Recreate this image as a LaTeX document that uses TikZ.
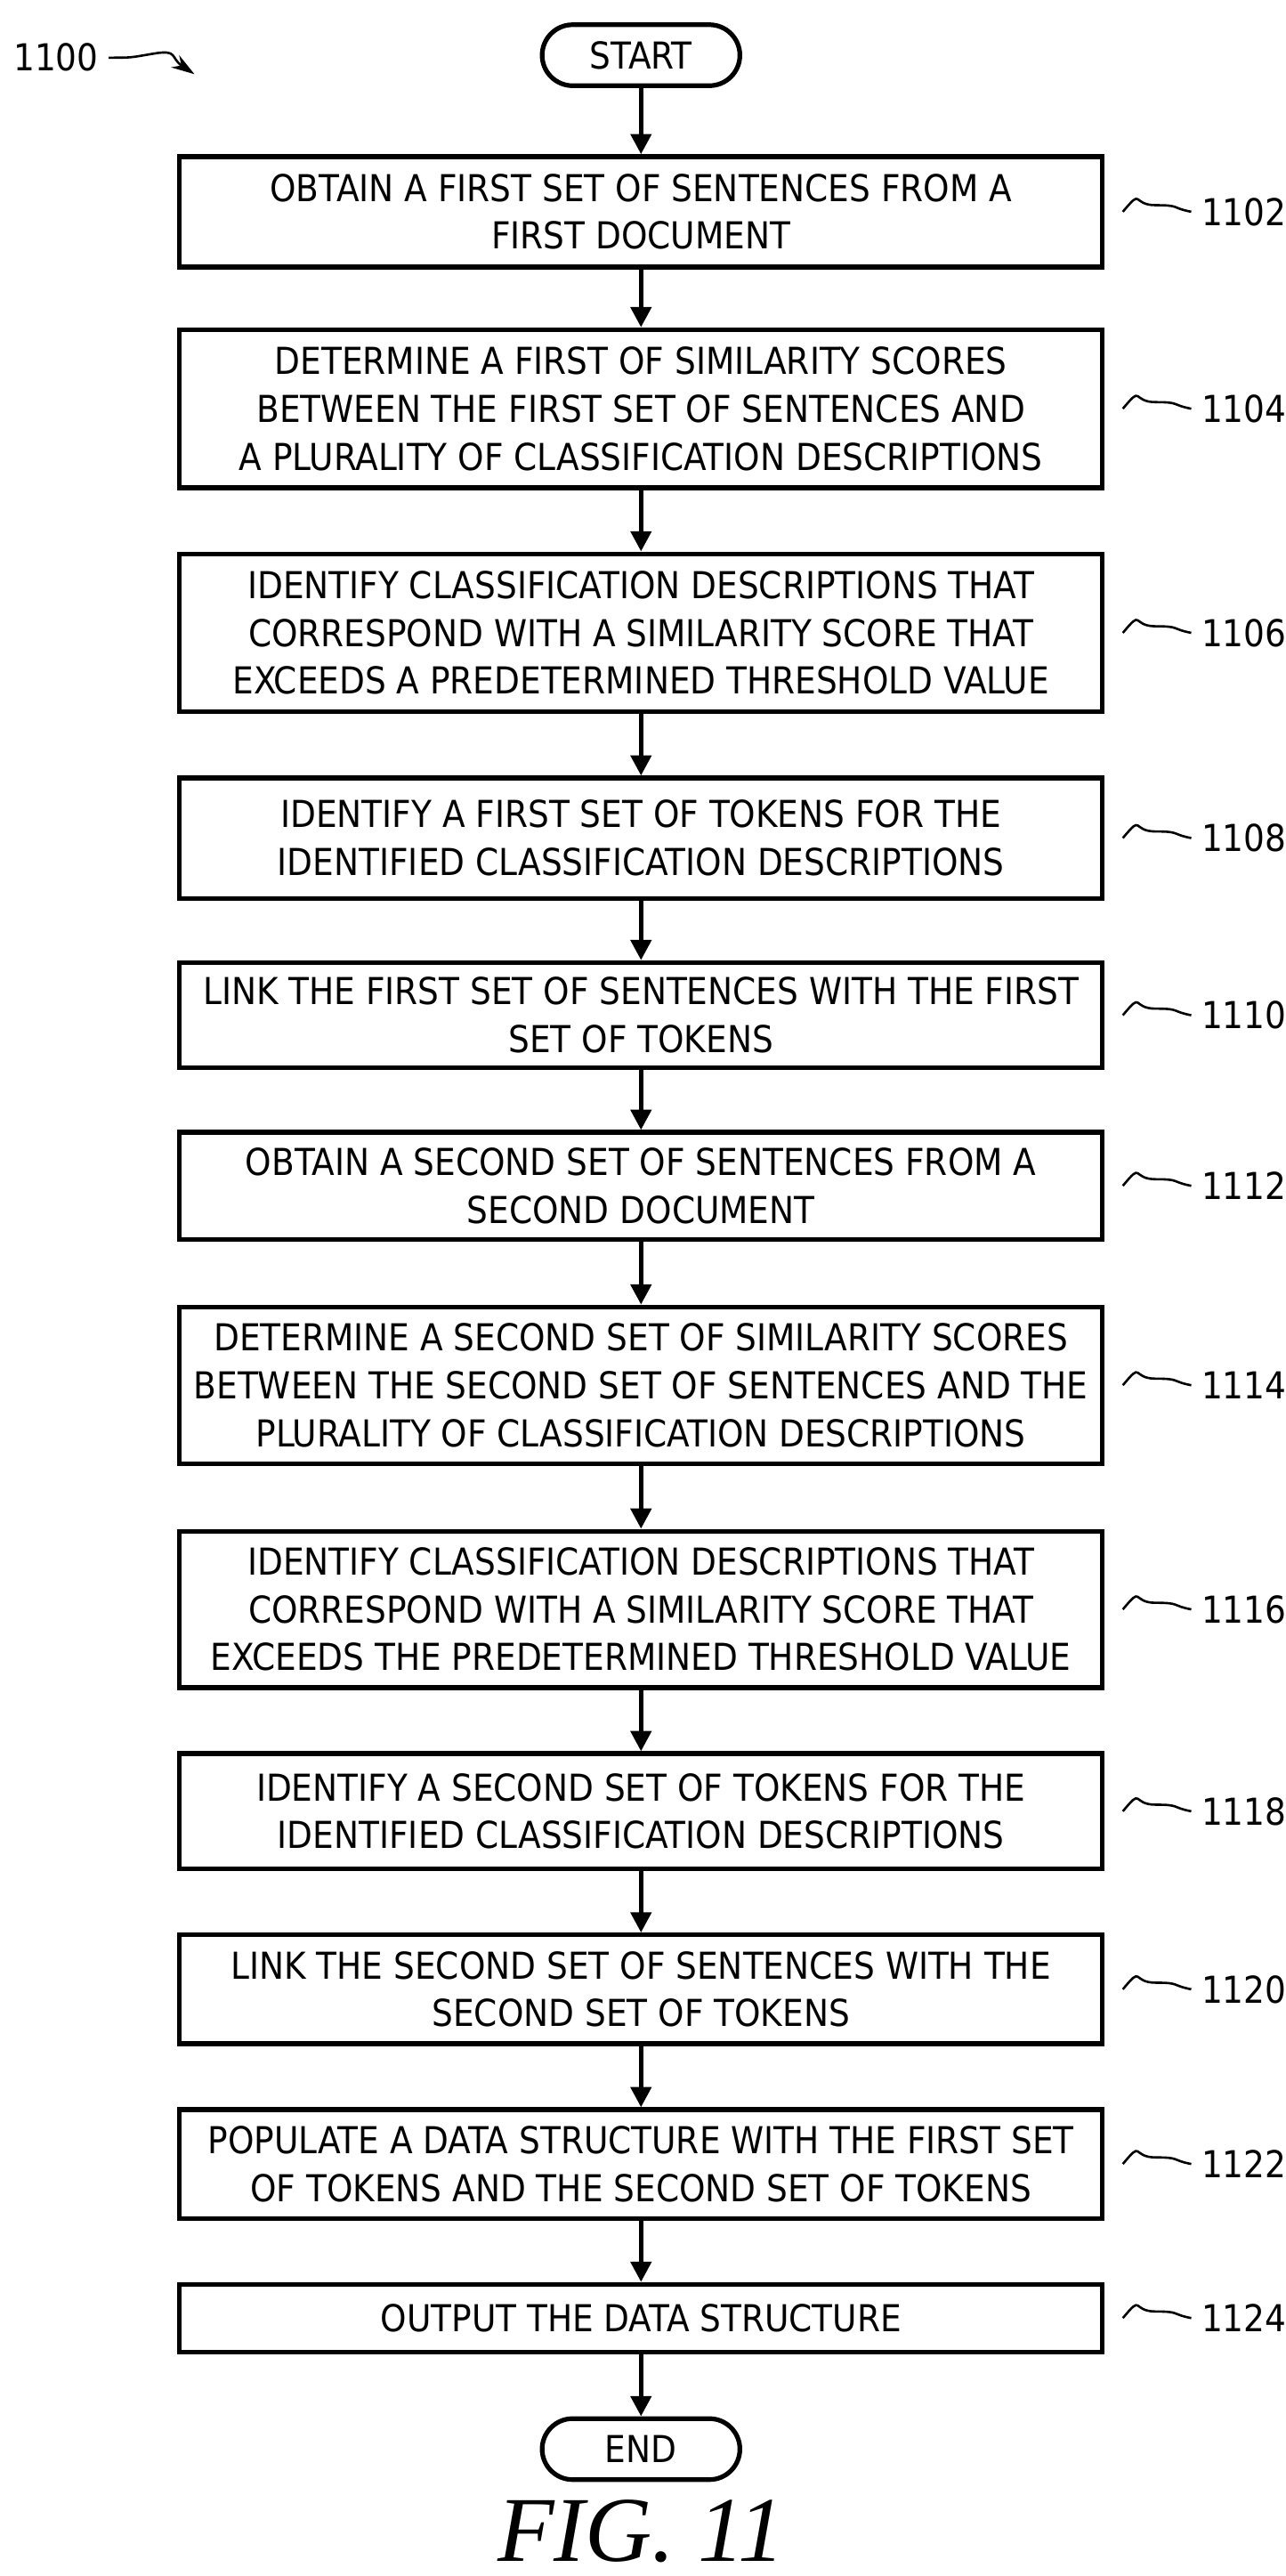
\documentclass[tikz,border=0pt]{standalone}
\usepackage{fontspec}
\setmainfont{Liberation Serif}
\setsansfont{DejaVu Sans Condensed}
\usetikzlibrary{calc,arrows.meta}
\tikzset{
 box/.style={draw,line width=1.6pt,minimum width=11.2cm,align=center,font=\sffamily\fontsize{12.8}{16.5}\selectfont,inner sep=2pt},
 term/.style={draw,line width=1.6pt,rounded corners=0.37cm,minimum width=2.4cm,minimum height=0.74cm,font=\sffamily\fontsize{12.8}{14}\selectfont},
 ref/.style={anchor=west,font=\sffamily\fontsize{12.8}{14}\selectfont},
 flow/.style={line width=1.6pt,-{Triangle[length=7pt,width=7pt]}},
 wave/.style={line width=0.8pt}
}
\begin{document}
\begin{tikzpicture}
\useasboundingbox (0,0) rectangle (15.6,-31.26);
% terminals
\node[term] (start) at (7.78,-0.67) {START};
\node[term] (end) at (7.78,-29.72) {END};
% steps
\node[box,minimum height=1.34cm] (s1102) at (7.78,-2.57) {OBTAIN A FIRST SET OF SENTENCES FROM A\\FIRST DOCUMENT};
\node[box,minimum height=1.92cm] (s1104) at (7.78,-4.96) {DETERMINE A FIRST OF SIMILARITY SCORES\\BETWEEN THE FIRST SET OF SENTENCES AND\\A PLURALITY OF CLASSIFICATION DESCRIPTIONS};
\node[box,minimum height=1.92cm] (s1106) at (7.78,-7.68) {IDENTIFY CLASSIFICATION DESCRIPTIONS THAT\\CORRESPOND WITH A SIMILARITY SCORE THAT\\EXCEEDS A PREDETERMINED THRESHOLD VALUE};
\node[box,minimum height=1.46cm] (s1108) at (7.78,-10.17) {IDENTIFY A FIRST SET OF TOKENS FOR THE\\IDENTIFIED CLASSIFICATION DESCRIPTIONS};
\node[box,minimum height=1.28cm] (s1110) at (7.78,-12.32) {LINK THE FIRST SET OF SENTENCES WITH THE FIRST\\SET OF TOKENS};
\node[box,minimum height=1.30cm] (s1112) at (7.78,-14.39) {OBTAIN A SECOND SET OF SENTENCES FROM A\\SECOND DOCUMENT};
\node[box,minimum height=1.90cm] (s1114) at (7.78,-16.81) {DETERMINE A SECOND SET OF SIMILARITY SCORES\\BETWEEN THE SECOND SET OF SENTENCES AND THE\\PLURALITY OF CLASSIFICATION DESCRIPTIONS};
\node[box,minimum height=1.90cm] (s1116) at (7.78,-19.53) {IDENTIFY CLASSIFICATION DESCRIPTIONS THAT\\CORRESPOND WITH A SIMILARITY SCORE THAT\\EXCEEDS THE PREDETERMINED THRESHOLD VALUE};
\node[box,minimum height=1.40cm] (s1118) at (7.78,-21.98) {IDENTIFY A SECOND SET OF TOKENS FOR THE\\IDENTIFIED CLASSIFICATION DESCRIPTIONS};
\node[box,minimum height=1.32cm] (s1120) at (7.78,-24.14) {LINK THE SECOND SET OF SENTENCES WITH THE\\SECOND SET OF TOKENS};
\node[box,minimum height=1.32cm] (s1122) at (7.78,-26.26) {POPULATE A DATA STRUCTURE WITH THE FIRST SET\\OF TOKENS AND THE SECOND SET OF TOKENS};
\node[box,minimum height=0.82cm] (s1124) at (7.78,-28.13) {OUTPUT THE DATA STRUCTURE};
% arrows
\draw[flow] (start) -- (s1102);
\foreach \a/\b in {1102/1104,1104/1106,1106/1108,1108/1110,1110/1112,1112/1114,1114/1116,1116/1118,1118/1120,1120/1122,1122/1124}
 \draw[flow] (s\a) -- (s\b);
\draw[flow] (s1124) -- (end);
% reference numerals
\foreach \n in {1102,1104,1106,1108,1110,1112,1114,1116,1118,1120,1122,1124}{
 \node[ref] (r\n) at ($(s\n.east)+(1.05,0)$) {\n};
 \coordinate (w\n) at ($(s\n.east)+(0.22,0)$);
 \draw[wave] (w\n) .. controls +(0.25,0.3) and +(-0.3,0) .. ($(w\n)+(0.4,0.08)$) .. controls +(0.3,0) and +(-0.25,0.05) .. (r\n.west);
}
\node[font=\sffamily\fontsize{12.8}{14}\selectfont] (fig) at (0.68,-0.7) {1100};
\coordinate (fig1100) at (2.36,-0.9);
\draw[wave,-{Stealth[length=8pt,width=5pt]}] (fig.east) .. controls +(0.3,0) and +(-0.3,-0.05) .. ($(fig.east)+(0.55,0.05)$) .. controls +(0.3,0.05) and +(-0.3,0.2) .. (fig1100);
\node[font=\rmfamily\itshape\fontsize{32}{34}\selectfont] (cap) at (7.78,-30.72) {FIG. 11};
\end{tikzpicture}
\end{document}
